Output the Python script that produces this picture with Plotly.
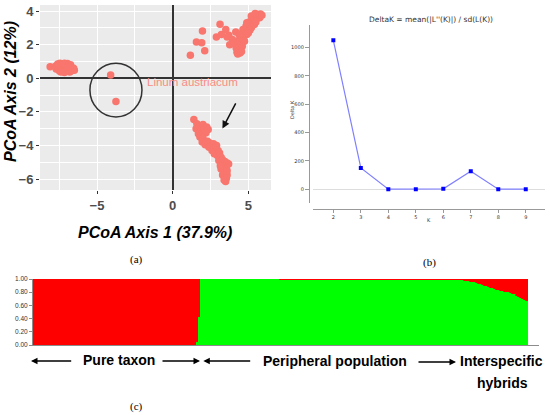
import plotly.graph_objects as go

# =========================
# DATA
# =========================

# (a) PCoA scores
pcoa_x = [
    # western cluster
    -8.1, -7.75, -7.7, -7.6, -7.55, -7.5, -7.45, -7.4, -7.35, -7.3, -7.25, -7.2,
    -7.15, -7.1, -7.05, -7.0, -6.95, -6.9, -6.85, -6.8, -6.75, -6.7, -6.65, -6.6,
    -6.5, -7.6, -7.3, -7.0, -6.8, -7.15, -7.4, -6.55, -7.5, -7.2, -6.9,
    # Linum austriacum
    -4.1, -3.75,
    # upper right, scattered
    1.17, 1.57, 1.92, 1.97, 2.12, 2.89, 3.13, 3.22, 3.51, 3.71, 3.77, 4.17, 3.95, 4.05, 3.6,
    # upper right, dense band
    4.25, 4.35, 4.45, 4.2, 4.4, 4.3, 4.5, 4.6, 4.45, 4.7, 4.55, 4.8, 4.65, 4.9, 4.95,
    5.0, 4.85, 5.1, 5.15, 5.2, 5.05, 5.3, 5.25, 5.4, 5.35, 5.45, 5.5, 5.55, 5.6, 5.65,
    5.7, 5.8, 5.75, 5.5, 5.0, 4.75, 4.6, 4.4, 4.9, 5.2, 5.45, 5.9, 4.3, 4.55,
    # lower right
    1.4, 1.6, 1.55, 1.75, 1.85, 1.7, 1.8, 2.0, 2.1, 2.25, 2.35, 2.2, 2.0, 1.95, 2.15,
    2.3, 2.45, 2.55, 2.7, 2.6, 2.8, 2.9, 3.0, 2.75, 2.95, 3.1, 3.2, 3.05, 3.3, 3.45,
    3.6, 3.7, 3.25, 3.4, 3.55, 3.2, 3.35, 3.5, 3.3, 3.45, 3.55, 3.5, 3.4, 3.6, 2.4,
    3.15, 3.6,
]
pcoa_y = [
    0.68, 0.72, 0.55, 0.85, 0.62, 0.45, 0.9, 0.7, 0.55, 0.8, 0.4, 0.65,
    0.9, 0.5, 0.75, 0.6, 0.88, 0.42, 0.7, 0.55, 0.8, 0.45, 0.62, 0.52,
    0.48, 0.75, 0.5, 0.45, 0.38, 0.35, 0.38, 0.6, 0.8, 0.85, 0.68,
    0.2, -1.39,
    1.37, 2.16, 2.12, 2.82, 1.63, 2.46, 3.21, 2.6, 2.9, 2.56, 2.0, 2.76, 2.3, 2.05, 2.45,
    1.55, 1.7, 1.5, 1.8, 1.95, 2.2, 2.1, 2.35, 2.4, 2.5, 2.65, 2.75, 2.9, 2.6, 2.9,
    3.05, 3.1, 2.85, 3.2, 3.0, 3.35, 3.3, 3.5, 3.2, 3.6, 3.45, 3.7, 3.55, 3.8, 3.65,
    3.75, 3.82, 3.6, 3.35, 2.7, 2.2, 1.9, 2.6, 3.3, 3.7, 3.85, 3.75, 1.45, 1.6,
    -2.45, -2.7, -3.0, -2.9, -3.15, -3.3, -3.5, -2.75, -3.0, -2.9, -3.05, -3.25, -3.55, -3.8, -3.95,
    -3.75, -3.85, -4.05, -3.9, -4.3, -4.15, -4.0, -4.3, -4.5, -4.6, -4.45, -4.7, -4.9, -4.85, -4.95,
    -5.05, -5.1, -5.1, -5.25, -5.35, -5.4, -5.55, -5.6, -5.75, -5.85, -5.95, -6.15, -6.05, -5.75, -4.1,
    -5.2, -5.5,
]

# (b) Evanno DeltaK
k_values = [2, 3, 4, 5, 6, 7, 8, 9]
delta_k = [1052, 151, 0.5, 0.3, 3, 127, 0.8, 0.4]
delta_k_ticks = [0, 200, 400, 600, 800, 1000]

# (c) STRUCTURE membership to the green cluster, one value per individual
q_green = (
    [0.0] * 82 + [0.05, 0.42]            # pure taxon
    + [1.0] * 40                          # peripheral population
    + [0.99] * 90
    + [0.99, 0.985, 0.98, 0.975, 0.97, 0.965, 0.96, 0.955,
       0.95, 0.94, 0.93, 0.92, 0.915,
       0.90, 0.89, 0.88,
       0.87, 0.86, 0.85, 0.84, 0.83,
       0.82, 0.815, 0.81, 0.805, 0.80,
       0.79, 0.78, 0.77, 0.75,
       0.73, 0.71, 0.70, 0.68, 0.66]      # interspecific hybrids
)
q_red = [1 - g for g in q_green]
q_ticks = [0, 0.2, 0.4, 0.6, 0.8, 1.0]

# =========================
# PIXEL HELPERS
# =========================

W, H = 550, 415


def px(x):
    return x / W


def py(y):
    return 1 - y / H


fig = go.Figure()

# =========================
# (a) PCoA
# =========================

fig.add_trace(
    go.Scatter(
        x=pcoa_x, y=pcoa_y, mode="markers",
        marker=dict(size=7.5, color="#F8766D", line=dict(width=0)),
        xaxis="x", yaxis="y", showlegend=False, hoverinfo="skip",
    )
)

# =========================
# (b) DeltaK
# =========================

fig.add_trace(
    go.Scatter(
        x=k_values, y=delta_k, mode="lines+markers",
        line=dict(color="#8080FF", width=1.2),
        marker=dict(symbol="square", size=4, color="#0000FF"),
        xaxis="x2", yaxis="y2", showlegend=False, hoverinfo="skip",
    )
)

# =========================
# (c) STRUCTURE bars
# =========================

idx = list(range(len(q_green)))
fig.add_trace(
    go.Bar(
        x=idx, y=q_green, width=1,
        marker=dict(color="#00FF00", line=dict(width=0.6, color="#00FF00")),
        xaxis="x3", yaxis="y3", showlegend=False, hoverinfo="skip",
    )
)
fig.add_trace(
    go.Bar(
        x=idx, y=q_red, width=1,
        marker=dict(color="#FF0000", line=dict(width=0.6, color="#FF0000")),
        xaxis="x3", yaxis="y3", showlegend=False, hoverinfo="skip",
    )
)

bar_px = (528 - 33) / len(q_green)
x3_max = -0.5 + (539 - 33) / bar_px

# =========================
# AXES
# =========================

grid_a = dict(showgrid=True, gridcolor="white", gridwidth=1.1,
              zeroline=True, zerolinecolor="#333333", zerolinewidth=1.5,
              ticks="outside", ticklen=3, tickcolor="#333333",
              tickfont=dict(family="Liberation Sans", size=13, color="#4D4D4D", weight="bold"),
              showline=False, automargin=False)

fig.update_layout(
    xaxis=dict(domain=[px(40), px(271)], anchor="y", range=[-8.77, 6.5],
               tickvals=[-5, 0, 5],
               minor=dict(tickvals=[-7.5, -2.5, 2.5], showgrid=True,
                          gridcolor="white", gridwidth=0.5, ticks=""),
               **grid_a),
    yaxis=dict(domain=[py(190), py(5)], anchor="x", range=[-6.65, 4.36],
               tickvals=[-6, -4, -2, 0, 2, 4],
               minor=dict(tickvals=[-5, -3, -1, 1, 3], showgrid=True,
                          gridcolor="white", gridwidth=0.5, ticks=""),
               **grid_a),
    xaxis2=dict(domain=[px(313), px(545)], anchor="free", position=py(209),
                range=[1.26, 9.70], tickvals=k_values,
                showline=True, linecolor="#999999", linewidth=1.3,
                ticks="outside", ticklen=3, tickcolor="#999999",
                tickfont=dict(family="DejaVu Sans", size=5, color="#333333"),
                showgrid=False, zeroline=False, automargin=False),
    yaxis2=dict(domain=[py(203.3), py(25)], anchor="free", position=px(309),
                range=[-99, 1160], tickvals=delta_k_ticks,
                showline=True, linecolor="#999999", linewidth=1.3,
                ticks="outside", ticklen=4, tickcolor="#999999",
                tickfont=dict(family="DejaVu Sans", size=5, color="#333333"),
                showgrid=False, zeroline=True, zerolinecolor="#DDDDDD", zerolinewidth=1,
                automargin=False),
    xaxis3=dict(domain=[px(33), px(539)], anchor="y3", range=[-0.5, x3_max],
                showticklabels=False, ticks="", showgrid=False, zeroline=False,
                showline=True, linecolor="#8C8C8C", linewidth=1.2, automargin=False),
    yaxis3=dict(domain=[py(345), py(279)], anchor="x3", range=[0, 1],
                tickvals=q_ticks, tickformat=".2f",
                ticks="outside", ticklen=3, tickcolor="#8C8C8C",
                tickfont=dict(family="Liberation Sans", size=6.5, color="#333333"),
                showline=True, linecolor="#8C8C8C", linewidth=1,
                showgrid=False, zeroline=False, automargin=False),
    barmode="stack",
    bargap=0,
)

# =========================
# SHAPES
# =========================

fig.add_shape(type="rect", xref="x domain", yref="y domain", x0=0, x1=1, y0=0, y1=1,
              fillcolor="#EBEBEB", line=dict(width=0), layer="below")

fig.add_shape(type="circle", xref="x", yref="y",
              x0=-3.75 - 1.72, x1=-3.75 + 1.72, y0=-0.7 - 1.6, y1=-0.7 + 1.6,
              line=dict(color="#333333", width=1.5))

# =========================
# TEXT
# =========================

ann = []


def label_at(text, xpos, ypos, font, angle=0):
    return dict(x=px(xpos), y=py(ypos), xref="paper", yref="paper",
                xanchor="center", yanchor="middle", text=text,
                showarrow=False, textangle=angle, font=font)


ann.append(dict(x=-1.8, y=-0.24, xref="x", yref="y", text="Linum austriacum",
                showarrow=False, xanchor="left", yanchor="middle",
                font=dict(family="Liberation Sans", size=11.5, color="#F98C84")))

ann.append(dict(x=3.29, y=-2.99, xref="x", yref="y", ax=4.22, ay=-1.41,
                axref="x", ayref="y", text="", showarrow=True,
                arrowhead=2, arrowsize=1, arrowwidth=1.5, arrowcolor="#111111"))

title_font = dict(family="Liberation Sans", size=16, color="black")
ann.append(label_at("<b><i>PCoA Axis 1 (37.9%)</i></b>", 154.5, 232, title_font))
ann.append(label_at("<b><i>PCoA Axis 2 (12%)</i></b>", 11, 92, title_font, angle=-90))

small_b = dict(family="DejaVu Sans", size=5, color="#333333")
ann.append(label_at("DeltaK = mean(|L''(K)|) / sd(L(K))", 430.5, 19.5,
                    dict(family="DejaVu Sans", size=7.5, color="#333333")))
ann.append(label_at("Delta K", 292, 110, small_b, angle=-90))
ann.append(label_at("K", 429, 219.5, small_b))

serif = dict(family="Liberation Serif", size=11, color="black")
for label, xpos, ypos in [("(a)", 136, 259.5), ("(b)", 429, 262), ("(c)", 136, 406.5)]:
    ann.append(label_at(label, xpos, ypos, serif))

bold = dict(family="Liberation Sans", size=14, color="black", weight="bold")
for label, xpos, ypos in [("Pure taxon", 119, 359.5),
                          ("Peripheral population", 335, 360.5),
                          ("Interspecific", 501, 360.5),
                          ("hybrids", 502, 383)]:
    ann.append(label_at(label, xpos, ypos, bold))

# arrows of panel (c): head x, tail x, y  (pixels)
for head, tail, ypos in [(31, 72.7, 361), (200, 161, 361), (203.3, 251.7, 361), (456, 417, 362)]:
    ann.append(dict(x=px(head), y=py(ypos), xref="paper", yref="paper",
                    ax=tail - head, ay=0, text="", showarrow=True,
                    arrowhead=2, arrowsize=1, arrowwidth=1.3, arrowcolor="black"))

# =========================
# LAYOUT
# =========================

fig.update_layout(
    annotations=ann,
    width=W, height=H,
    margin=dict(l=0, r=0, t=0, b=0, autoexpand=False),
    plot_bgcolor="white",
    paper_bgcolor="white",
)

fig.write_html("out.html", config={"displayModeBar": False},
               post_script="document.body.style.margin = '0px';")
